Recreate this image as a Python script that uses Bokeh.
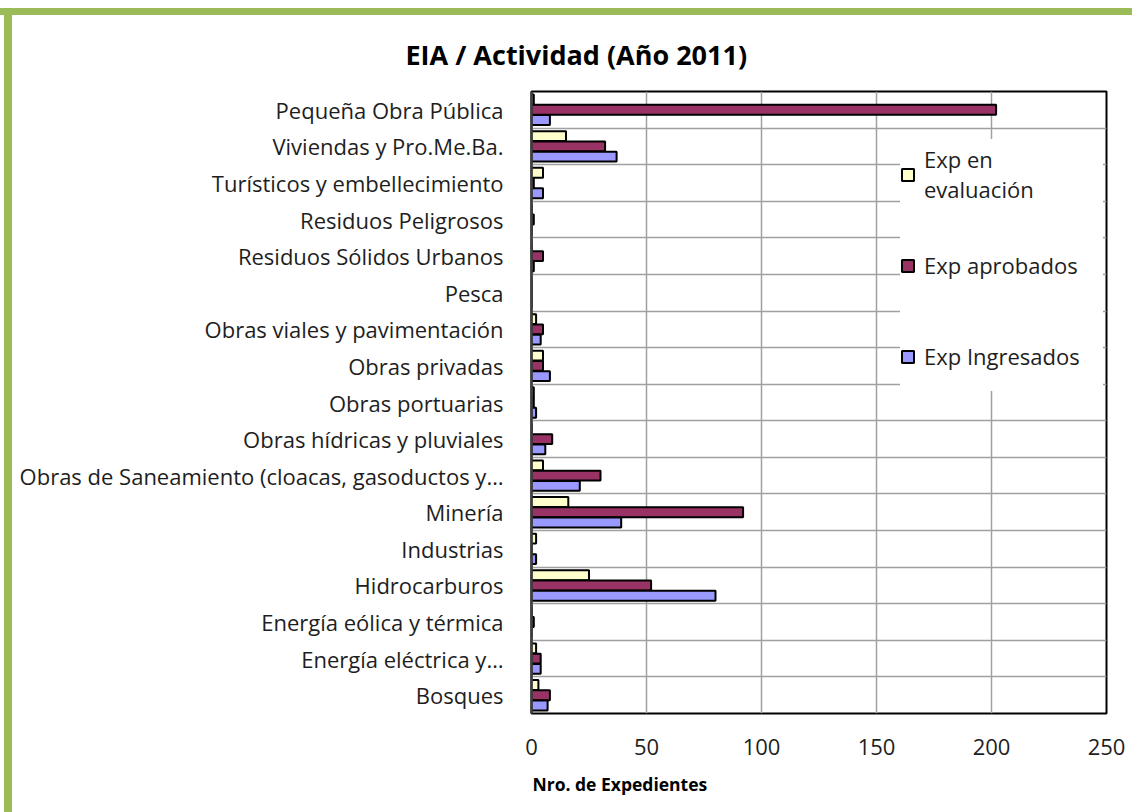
from bokeh.plotting import figure
from bokeh.models import (ColumnDataSource, Range1d, FixedTicker, Legend, LegendItem,
                          Title, Div)
from bokeh.layouts import column, row
from bokeh.embed import file_html
from bokeh.resources import INLINE

categories = [
    "Pequeña Obra Pública",
    "Viviendas y Pro.Me.Ba.",
    "Turísticos y embellecimiento",
    "Residuos Peligrosos",
    "Residuos Sólidos Urbanos",
    "Pesca",
    "Obras viales y pavimentación",
    "Obras privadas",
    "Obras portuarias",
    "Obras hídricas y pluviales",
    "Obras de Saneamiento (cloacas, gasoductos y…",
    "Minería",
    "Industrias",
    "Hidrocarburos",
    "Energía eólica y térmica",
    "Energía eléctrica y…",
    "Bosques",
]
exp_evaluacion = [1, 15, 5, 0, 0, 0, 2, 5, 1, 0, 5, 16, 2, 25, 0, 2, 3]
exp_aprobados = [202, 32, 1, 1, 5, 0, 5, 5, 1, 9, 30, 92, 0, 52, 1, 4, 8]
exp_ingresados = [8, 37, 5, 0, 1, 0, 4, 8, 2, 6, 21, 39, 2, 80, 0, 4, 7]
series_names = ["Exp en\nevaluación", "Exp aprobados", "Exp Ingresados"]
x_ticks = [0, 50, 100, 150, 200, 250]
title_text = "EIA / Actividad (Año 2011)"
x_title = "Nro. de Expedientes"

n = len(categories)
ypos = [n - 0.5 - i for i in range(n)]
src = ColumnDataSource(dict(
    y=ypos,
    ev=exp_evaluacion, ap=exp_aprobados, ing=exp_ingresados,
    y_ev=[v + 0.28 for v in ypos],
    y_ap=ypos,
    y_ing=[v - 0.28 for v in ypos],
))

FONT = "Open Sans"
TXT = "#1e1e1e"

p = figure(width=1120, height=797, output_backend="svg", toolbar_location=None,
           x_range=Range1d(0, 250), y_range=Range1d(0, n),
           min_border_left=519, min_border_right=26, min_border_top=76,
           min_border_bottom=99)
p.background_fill_color = "white"
p.border_fill_color = "white"
p.outline_line_color = "black"
p.outline_line_width = 2

bar_h = 0.27
r_ev = p.hbar(y="y_ev", right="ev", left=0, height=bar_h, source=src,
              fill_color="#FFFFCC", line_color="black", line_width=2)
r_ap = p.hbar(y="y_ap", right="ap", left=0, height=bar_h, source=src,
              fill_color="#993366", line_color="black", line_width=2)
r_ing = p.hbar(y="y_ing", right="ing", left=0, height=bar_h, source=src,
               fill_color="#9999FF", line_color="black", line_width=2)

# axes
xax = p.xaxis[0]
xax.ticker = FixedTicker(ticks=x_ticks)
xax.axis_line_color = None
xax.major_tick_line_color = None
xax.minor_tick_line_color = None
xax.major_label_text_font = FONT
xax.major_label_text_font_size = "22px"
xax.major_label_text_color = TXT
xax.major_label_standoff = 19

p.add_layout(Title(text=x_title, align="left", offset=1,
                   text_font=FONT, text_font_size="17.5px",
                   text_font_style="bold", text_color="black",
                   standoff=24), "below")

yax = p.yaxis[0]
yax.ticker = FixedTicker(ticks=ypos)
yax.major_label_overrides = {y: c for y, c in zip(ypos, categories)}
yax.axis_line_color = "#404040"
yax.axis_line_width = 2.5
yax.major_tick_line_color = None
yax.minor_tick_line_color = None
yax.major_label_text_font = FONT
yax.major_label_text_font_size = "22px"
yax.major_label_text_color = TXT
yax.major_label_standoff = 22

p.xgrid.ticker = FixedTicker(ticks=x_ticks)
p.xgrid.grid_line_color = "#A0A0A0"
p.xgrid.grid_line_width = 1.5
p.ygrid.ticker = FixedTicker(ticks=list(range(1, n)))
p.ygrid.grid_line_color = "#A0A0A0"
p.ygrid.grid_line_width = 1.5

p.title = Title(text=title_text, align="left", offset=-126,
                vertical_align="middle",
                text_font=FONT, text_font_size="27px", text_font_style="bold",
                text_color="black", standoff=36)

legend = Legend(items=[LegendItem(label=series_names[0], renderers=[r_ev]),
                       LegendItem(label=series_names[1], renderers=[r_ap]),
                       LegendItem(label=series_names[2], renderers=[r_ing])],
                location=(369, 322), orientation="vertical",
                background_fill_color="white", background_fill_alpha=1.0,
                border_line_color=None,
                label_text_font=FONT, label_text_font_size="22px",
                label_text_color=TXT, label_text_line_height=1.85,
                glyph_width=15, glyph_height=15, label_height=70, label_width=179,
                spacing=21, padding=0, margin=0, label_standoff=9)
p.add_layout(legend, "center")

top_strip = Div(width=1132, height=7, margin=(8, 0, 0, 0),
                styles={"background-color": "#9BBB59"})
left_strip = Div(width=8, height=797, margin=(0, 0, 0, 4),
                 styles={"background-color": "#9BBB59"})
layout = column(top_strip, row(left_strip, p, spacing=0), spacing=0)

open("out.html", "w").write(file_html(layout, INLINE))
